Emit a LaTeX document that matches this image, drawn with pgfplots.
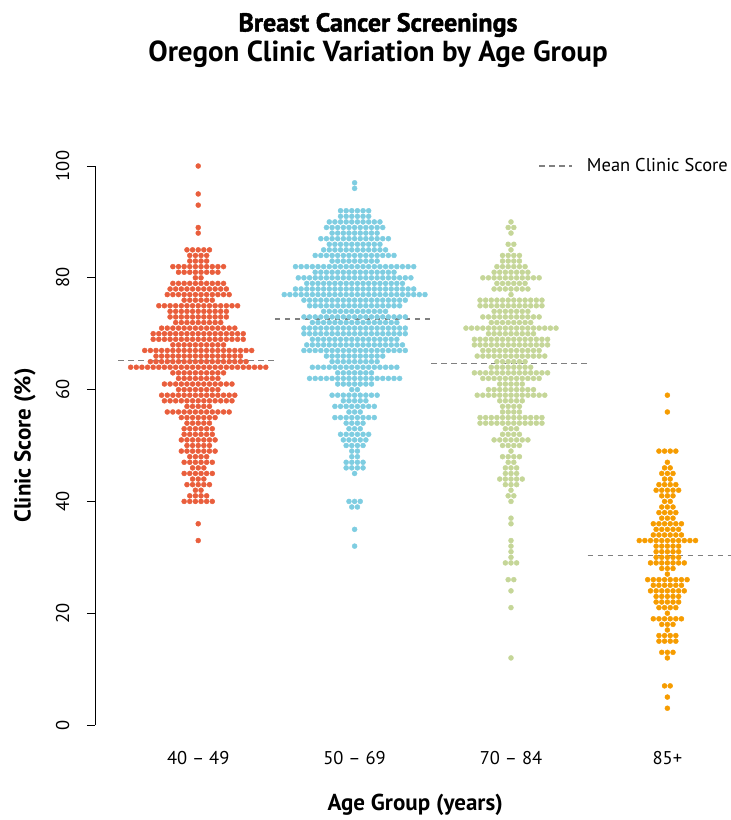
\documentclass[border=0pt]{standalone}
\usepackage{fontspec}
\setmainfont{PT Sans}
\newfontfamily\heavyfont{PT Sans}[BoldFeatures={FakeBold=1.6}]
\usepackage{pgfplots}
\usepackage{pgfplotstable}
\pgfplotsset{compat=1.18}
\definecolor{cA}{RGB}{233,94,60}
\definecolor{cB}{RGB}{126,205,225}
\definecolor{cC}{RGB}{197,214,152}
\definecolor{cD}{RGB}{246,156,0}
\definecolor{meanc}{RGB}{128,128,128}

% y = row value, k = horizontal slot (half-dot units)
\pgfplotstableread[row sep=\\]{
y k\\
100 0\\95 0\\93 0\\89 0\\88 0\\
85 -4\\85 -2\\85 0\\85 2\\85 4\\
84 -3\\84 -1\\84 1\\84 3\\
83 -3\\83 -1\\83 1\\83 3\\
82 -9\\82 -7\\82 -5\\82 -3\\82 -1\\82 1\\82 3\\82 5\\82 7\\82 9\\
81 -7\\81 -5\\81 -3\\81 -1\\81 1\\81 3\\81 5\\81 7\\
80 -1\\80 1\\
79 -9\\79 -7\\79 -5\\79 -3\\79 -1\\79 1\\79 3\\79 5\\79 7\\79 9\\
78 -10\\78 -8\\78 -6\\78 -4\\78 -2\\78 0\\78 2\\78 4\\78 6\\78 8\\78 10\\
77 -11\\77 -9\\77 -7\\77 -5\\77 -3\\77 -1\\77 1\\77 3\\77 5\\77 7\\77 9\\77 11\\
76 -5\\76 -3\\76 -1\\76 1\\76 3\\76 5\\
75 -14\\75 -12\\75 -10\\75 -8\\75 -6\\75 -4\\75 -2\\75 0\\75 2\\75 4\\75 6\\75 8\\75 10\\75 12\\75 14\\
74 -10\\74 -8\\74 -6\\74 -4\\74 -2\\74 0\\74 2\\74 4\\74 6\\74 8\\74 10\\
73 -10\\73 -8\\73 -6\\73 -4\\73 -2\\73 0\\73 2\\73 4\\73 6\\73 8\\73 10\\
72 -8\\72 -6\\72 -4\\72 -2\\72 0\\72 2\\72 4\\72 6\\72 8\\
71 -13\\71 -11\\71 -9\\71 -7\\71 -5\\71 -3\\71 -1\\71 1\\71 3\\71 5\\71 7\\71 9\\71 11\\71 13\\
70 -16\\70 -14\\70 -12\\70 -10\\70 -8\\70 -6\\70 -4\\70 -2\\70 0\\70 2\\70 4\\70 6\\70 8\\70 10\\70 12\\70 14\\70 16\\
69 -16\\69 -14\\69 -12\\69 -10\\69 -8\\69 -6\\69 -4\\69 -2\\69 0\\69 2\\69 4\\69 6\\69 8\\69 10\\69 12\\69 14\\69 16\\
68 -9\\68 -7\\68 -5\\68 -3\\68 -1\\68 1\\68 3\\68 5\\68 7\\68 9\\
67 -19\\67 -17\\67 -15\\67 -13\\67 -11\\67 -9\\67 -7\\67 -5\\67 -3\\67 -1\\67 1\\67 3\\67 5\\67 7\\67 9\\67 11\\67 13\\67 15\\67 17\\67 19\\
66 -15\\66 -13\\66 -11\\66 -9\\66 -7\\66 -5\\66 -3\\66 -1\\66 1\\66 3\\66 5\\66 7\\66 9\\66 11\\66 13\\66 15\\
65 -17\\65 -15\\65 -13\\65 -11\\65 -9\\65 -7\\65 -5\\65 -3\\65 -1\\65 1\\65 3\\65 5\\65 7\\65 9\\65 11\\65 13\\65 15\\65 17\\
64 -24\\64 -22\\64 -20\\64 -18\\64 -16\\64 -14\\64 -12\\64 -10\\64 -8\\64 -6\\64 -4\\64 -2\\64 0\\64 2\\64 4\\64 6\\64 8\\64 10\\64 12\\64 14\\64 16\\64 18\\64 20\\64 22\\64 24\\
63 -9\\63 -7\\63 -5\\63 -3\\63 -1\\63 1\\63 3\\63 5\\63 7\\63 9\\
62 -7\\62 -5\\62 -3\\62 -1\\62 1\\62 3\\62 5\\62 7\\
61 -12\\61 -10\\61 -8\\61 -6\\61 -4\\61 -2\\61 0\\61 2\\61 4\\61 6\\61 8\\61 10\\61 12\\
60 -7\\60 -5\\60 -3\\60 -1\\60 1\\60 3\\60 5\\60 7\\
59 -13\\59 -11\\59 -9\\59 -7\\59 -5\\59 -3\\59 -1\\59 1\\59 3\\59 5\\59 7\\59 9\\59 11\\59 13\\
58 -12\\58 -10\\58 -8\\58 -6\\58 -4\\58 -2\\58 0\\58 2\\58 4\\58 6\\58 8\\58 10\\58 12\\
57 -4\\57 -2\\57 0\\57 2\\57 4\\
56 -11\\56 -9\\56 -7\\56 -5\\56 -3\\56 -1\\56 1\\56 3\\56 5\\56 7\\56 9\\56 11\\
55 -6\\55 -4\\55 -2\\55 0\\55 2\\55 4\\55 6\\
54 -4\\54 -2\\54 0\\54 2\\54 4\\
53 -5\\53 -3\\53 -1\\53 1\\53 3\\53 5\\
52 -5\\52 -3\\52 -1\\52 1\\52 3\\52 5\\
51 -6\\51 -4\\51 -2\\51 0\\51 2\\51 4\\51 6\\
50 -4\\50 -2\\50 0\\50 2\\50 4\\
49 -6\\49 -4\\49 -2\\49 0\\49 2\\49 4\\49 6\\
48 -3\\48 -1\\48 1\\48 3\\
47 -5\\47 -3\\47 -1\\47 1\\47 3\\47 5\\
46 -2\\46 0\\46 2\\
45 -5\\45 -3\\45 -1\\45 1\\45 3\\45 5\\
44 -2\\44 0\\44 2\\
43 -4\\43 -2\\43 0\\43 2\\43 4\\
42 -1\\42 1\\
41 -3\\41 -1\\41 1\\41 3\\
40 -5\\40 -3\\40 -1\\40 1\\40 3\\40 5\\
36 0\\33 0\\
}\gA

\pgfplotstableread[row sep=\\]{
y k\\
97 0\\96 0\\
92 -5\\92 -3\\92 -1\\92 1\\92 3\\92 5\\
91 -5\\91 -3\\91 -1\\91 1\\91 3\\91 5\\
90 -9\\90 -7\\90 -5\\90 -3\\90 -1\\90 1\\90 3\\90 5\\90 7\\90 9\\
89 -10\\89 -8\\89 -6\\89 -4\\89 -2\\89 0\\89 2\\89 4\\89 6\\89 8\\89 10\\
88 -8\\88 -6\\88 -4\\88 -2\\88 0\\88 2\\88 4\\88 6\\88 8\\
87 -12\\87 -10\\87 -8\\87 -6\\87 -4\\87 -2\\87 0\\87 2\\87 4\\87 6\\87 8\\87 10\\87 12\\
86 -9\\86 -7\\86 -5\\86 -3\\86 -1\\86 1\\86 3\\86 5\\86 7\\86 9\\
85 -11\\85 -9\\85 -7\\85 -5\\85 -3\\85 -1\\85 1\\85 3\\85 5\\85 7\\85 9\\85 11\\
84 -14\\84 -12\\84 -10\\84 -8\\84 -6\\84 -4\\84 -2\\84 0\\84 2\\84 4\\84 6\\84 8\\84 10\\84 12\\84 14\\
83 -8\\83 -6\\83 -4\\83 -2\\83 0\\83 2\\83 4\\83 6\\83 8\\
82 -21\\82 -19\\82 -17\\82 -15\\82 -13\\82 -11\\82 -9\\82 -7\\82 -5\\82 -3\\82 -1\\82 1\\82 3\\82 5\\82 7\\82 9\\82 11\\82 13\\82 15\\82 17\\82 19\\82 21\\
81 -14\\81 -12\\81 -10\\81 -8\\81 -6\\81 -4\\81 -2\\81 0\\81 2\\81 4\\81 6\\81 8\\81 10\\81 12\\81 14\\
80 -20\\80 -18\\80 -16\\80 -14\\80 -12\\80 -10\\80 -8\\80 -6\\80 -4\\80 -2\\80 0\\80 2\\80 4\\80 6\\80 8\\80 10\\80 12\\80 14\\80 16\\80 18\\80 20\\
79 -17\\79 -15\\79 -13\\79 -11\\79 -9\\79 -7\\79 -5\\79 -3\\79 -1\\79 1\\79 3\\79 5\\79 7\\79 9\\79 11\\79 13\\79 15\\79 17\\
78 -21\\78 -19\\78 -17\\78 -15\\78 -13\\78 -11\\78 -9\\78 -7\\78 -5\\78 -3\\78 -1\\78 1\\78 3\\78 5\\78 7\\78 9\\78 11\\78 13\\78 15\\78 17\\78 19\\78 21\\
77 -25\\77 -23\\77 -21\\77 -19\\77 -17\\77 -15\\77 -13\\77 -11\\77 -9\\77 -7\\77 -5\\77 -3\\77 -1\\77 1\\77 3\\77 5\\77 7\\77 9\\77 11\\77 13\\77 15\\77 17\\77 19\\77 21\\77 23\\77 25\\
76 -18\\76 -16\\76 -14\\76 -12\\76 -10\\76 -8\\76 -6\\76 -4\\76 -2\\76 0\\76 2\\76 4\\76 6\\76 8\\76 10\\76 12\\76 14\\76 16\\76 18\\
75 -16\\75 -14\\75 -12\\75 -10\\75 -8\\75 -6\\75 -4\\75 -2\\75 0\\75 2\\75 4\\75 6\\75 8\\75 10\\75 12\\75 14\\75 16\\
74 -11\\74 -9\\74 -7\\74 -5\\74 -3\\74 -1\\74 1\\74 3\\74 5\\74 7\\74 9\\74 11\\
73 -18\\73 -16\\73 -14\\73 -12\\73 -10\\73 -8\\73 -6\\73 -4\\73 -2\\73 0\\73 2\\73 4\\73 6\\73 8\\73 10\\73 12\\73 14\\73 16\\73 18\\
72 -15\\72 -13\\72 -11\\72 -9\\72 -7\\72 -5\\72 -3\\72 -1\\72 1\\72 3\\72 5\\72 7\\72 9\\72 11\\72 13\\72 15\\
71 -18\\71 -16\\71 -14\\71 -12\\71 -10\\71 -8\\71 -6\\71 -4\\71 -2\\71 0\\71 2\\71 4\\71 6\\71 8\\71 10\\71 12\\71 14\\71 16\\71 18\\
70 -18\\70 -16\\70 -14\\70 -12\\70 -10\\70 -8\\70 -6\\70 -4\\70 -2\\70 0\\70 2\\70 4\\70 6\\70 8\\70 10\\70 12\\70 14\\70 16\\70 18\\
69 -15\\69 -13\\69 -11\\69 -9\\69 -7\\69 -5\\69 -3\\69 -1\\69 1\\69 3\\69 5\\69 7\\69 9\\69 11\\69 13\\69 15\\
68 -17\\68 -15\\68 -13\\68 -11\\68 -9\\68 -7\\68 -5\\68 -3\\68 -1\\68 1\\68 3\\68 5\\68 7\\68 9\\68 11\\68 13\\68 15\\68 17\\
67 -18\\67 -16\\67 -14\\67 -12\\67 -10\\67 -8\\67 -6\\67 -4\\67 -2\\67 0\\67 2\\67 4\\67 6\\67 8\\67 10\\67 12\\67 14\\67 16\\67 18\\
66 -10\\66 -8\\66 -6\\66 -4\\66 -2\\66 0\\66 2\\66 4\\66 6\\66 8\\66 10\\
65 -8\\65 -6\\65 -4\\65 -2\\65 0\\65 2\\65 4\\65 6\\65 8\\
64 -15\\64 -13\\64 -11\\64 -9\\64 -7\\64 -5\\64 -3\\64 -1\\64 1\\64 3\\64 5\\64 7\\64 9\\64 11\\64 13\\64 15\\
63 -6\\63 -4\\63 -2\\63 0\\63 2\\63 4\\63 6\\
62 -16\\62 -14\\62 -12\\62 -10\\62 -8\\62 -6\\62 -4\\62 -2\\62 0\\62 2\\62 4\\62 6\\62 8\\62 10\\62 12\\62 14\\62 16\\
61 -6\\61 -4\\61 -2\\61 0\\61 2\\61 4\\61 6\\
60 -1\\60 1\\
59 -8\\59 -6\\59 -4\\59 -2\\59 0\\59 2\\59 4\\59 6\\59 8\\
58 -4\\58 -2\\58 0\\58 2\\58 4\\
57 -7\\57 -5\\57 -3\\57 -1\\57 1\\57 3\\57 5\\57 7\\
56 -2\\56 0\\56 2\\
55 -7\\55 -5\\55 -3\\55 -1\\55 1\\55 3\\55 5\\55 7\\
54 -3\\54 -1\\54 1\\54 3\\
53 -2\\53 0\\53 2\\
52 -5\\52 -3\\52 -1\\52 1\\52 3\\52 5\\
51 -4\\51 -2\\51 0\\51 2\\51 4\\
50 -3\\50 -1\\50 1\\50 3\\
49 -1\\49 1\\
48 -1\\48 1\\
47 -3\\47 -1\\47 1\\47 3\\
46 -3\\46 -1\\46 1\\46 3\\
45 0\\
40 -2\\40 0\\40 2\\
39 -1\\39 1\\
35 0\\32 0\\
}\gB

\pgfplotstableread[row sep=\\]{
y k\\
90 0\\
89 -1\\89 1\\
88 0\\
86 -1\\86 1\\
85 0\\
84 -3\\84 -1\\84 1\\84 3\\
83 -3\\83 -1\\83 1\\83 3\\
82 -5\\82 -3\\82 -1\\82 1\\82 3\\82 5\\
81 -6\\81 -4\\81 -2\\81 0\\81 2\\81 4\\81 6\\
80 -10\\80 -8\\80 -6\\80 -4\\80 -2\\80 0\\80 2\\80 4\\80 6\\80 8\\80 10\\
79 -5\\79 -3\\79 -1\\79 1\\79 3\\79 5\\
78 -6\\78 -4\\78 -2\\78 0\\78 2\\78 4\\78 6\\
77 0\\
76 -11\\76 -9\\76 -7\\76 -5\\76 -3\\76 -1\\76 1\\76 3\\76 5\\76 7\\76 9\\76 11\\
75 -11\\75 -9\\75 -7\\75 -5\\75 -3\\75 -1\\75 1\\75 3\\75 5\\75 7\\75 9\\75 11\\
74 -6\\74 -4\\74 -2\\74 0\\74 2\\74 4\\74 6\\
73 -10\\73 -8\\73 -6\\73 -4\\73 -2\\73 0\\73 2\\73 4\\73 6\\73 8\\73 10\\
72 -7\\72 -5\\72 -3\\72 -1\\72 1\\72 3\\72 5\\72 7\\
71 -16\\71 -14\\71 -12\\71 -10\\71 -8\\71 -6\\71 -4\\71 -2\\71 0\\71 2\\71 4\\71 6\\71 8\\71 10\\71 12\\71 14\\71 16\\
70 -8\\70 -6\\70 -4\\70 -2\\70 0\\70 2\\70 4\\70 6\\70 8\\
69 -13\\69 -11\\69 -9\\69 -7\\69 -5\\69 -3\\69 -1\\69 1\\69 3\\69 5\\69 7\\69 9\\69 11\\69 13\\
68 -13\\68 -11\\68 -9\\68 -7\\68 -5\\68 -3\\68 -1\\68 1\\68 3\\68 5\\68 7\\68 9\\68 11\\68 13\\
67 -10\\67 -8\\67 -6\\67 -4\\67 -2\\67 0\\67 2\\67 4\\67 6\\67 8\\67 10\\
66 -12\\66 -10\\66 -8\\66 -6\\66 -4\\66 -2\\66 0\\66 2\\66 4\\66 6\\66 8\\66 10\\66 12\\
65 -5\\65 -3\\65 -1\\65 1\\65 3\\65 5\\
64 -7\\64 -5\\64 -3\\64 -1\\64 1\\64 3\\64 5\\64 7\\
63 -13\\63 -11\\63 -9\\63 -7\\63 -5\\63 -3\\63 -1\\63 1\\63 3\\63 5\\63 7\\63 9\\63 11\\63 13\\
62 -10\\62 -8\\62 -6\\62 -4\\62 -2\\62 0\\62 2\\62 4\\62 6\\62 8\\62 10\\
61 -4\\61 -2\\61 0\\61 2\\61 4\\
60 -8\\60 -6\\60 -4\\60 -2\\60 0\\60 2\\60 4\\60 6\\60 8\\
59 -12\\59 -10\\59 -8\\59 -6\\59 -4\\59 -2\\59 0\\59 2\\59 4\\59 6\\59 8\\59 10\\59 12\\
58 -4\\58 -2\\58 0\\58 2\\58 4\\
57 -3\\57 -1\\57 1\\57 3\\
56 -3\\56 -1\\56 1\\56 3\\
55 -11\\55 -9\\55 -7\\55 -5\\55 -3\\55 -1\\55 1\\55 3\\55 5\\55 7\\55 9\\55 11\\
54 -11\\54 -9\\54 -7\\54 -5\\54 -3\\54 -1\\54 1\\54 3\\54 5\\54 7\\54 9\\54 11\\
53 -2\\53 0\\53 2\\
52 -3\\52 -1\\52 1\\52 3\\
51 -6\\51 -4\\51 -2\\51 0\\51 2\\51 4\\51 6\\
50 -3\\50 -1\\50 1\\50 3\\
49 0\\
48 -3\\48 -1\\48 1\\48 3\\
47 -1\\47 1\\
46 -2\\46 0\\46 2\\
45 -2\\45 0\\45 2\\
44 -4\\44 -2\\44 0\\44 2\\44 4\\
43 -2\\43 0\\43 2\\
42 0\\
41 -1\\41 1\\
40 0\\37 0\\36 0\\33 0\\32 0\\31 0\\30 0\\
29 -2\\29 0\\29 2\\
26 -1\\26 1\\
24 0\\21 0\\12 0\\
}\gC

\pgfplotstableread[row sep=\\]{
y k\\
59 0\\56 0\\
49 -3\\49 -1\\49 1\\49 3\\
47 0\\
46 -1\\46 1\\
45 -2\\45 0\\45 2\\
44 -1\\44 1\\
43 -3\\43 -1\\43 1\\43 3\\
42 -4\\42 -2\\42 0\\42 2\\42 4\\
41 -2\\41 0\\41 2\\
40 -1\\40 1\\
39 -2\\39 0\\39 2\\
38 -3\\38 -1\\38 1\\38 3\\
37 -2\\37 0\\37 2\\
36 -5\\36 -3\\36 -1\\36 1\\36 3\\36 5\\
35 -4\\35 -2\\35 0\\35 2\\35 4\\
34 -5\\34 -3\\34 -1\\34 1\\34 3\\34 5\\
33 -10\\33 -8\\33 -6\\33 -4\\33 -2\\33 0\\33 2\\33 4\\33 6\\33 8\\33 10\\
32 -4\\32 -2\\32 0\\32 2\\32 4\\
31 -4\\31 -2\\31 0\\31 2\\31 4\\
30 -4\\30 -2\\30 0\\30 2\\30 4\\
29 -6\\29 -4\\29 -2\\29 0\\29 2\\29 4\\29 6\\
28 -2\\28 0\\28 2\\
27 0\\
26 -7\\26 -5\\26 -3\\26 -1\\26 1\\26 3\\26 5\\26 7\\
25 -5\\25 -3\\25 -1\\25 1\\25 3\\25 5\\
24 -6\\24 -4\\24 -2\\24 0\\24 2\\24 4\\24 6\\
23 -4\\23 -2\\23 0\\23 2\\23 4\\
22 -4\\22 -2\\22 0\\22 2\\22 4\\
21 -3\\21 -1\\21 1\\21 3\\
20 0\\
19 -5\\19 -3\\19 -1\\19 1\\19 3\\19 5\\
18 -2\\18 0\\18 2\\
17 0\\
16 -3\\16 -1\\16 1\\16 3\\
15 -3\\15 -1\\15 1\\15 3\\
13 -2\\13 0\\13 2\\
12 0\\
7 -1\\7 1\\
5 0\\3 0\\
}\gD

\begin{document}
\begin{tikzpicture}
\begin{axis}[
  at={(95pt,-725pt)}, anchor=south west,
  scale only axis, width=675.6pt, height=559pt,
  xmin=0.34, xmax=4.66, ymin=0, ymax=100,
  clip=false,
  axis x line*=bottom, axis y line*=left,
  x axis line style={draw=none},
  y axis line style={black, line width=0.9pt},
  xtick={1,2,3,4},
  xticklabels={40 \textendash{} 49, 50 \textendash{} 69, 70 \textendash{} 84, 85+},
  xtick style={draw=none},
  ytick={0,20,40,60,80,100},
  ytick style={black, line width=0.9pt},
  tick align=outside, major tick length=8pt,
  /pgf/number format/assume math mode=true,
  yticklabel style={rotate=90, anchor=south, font=\fontsize{18.5}{21}\selectfont},
  xticklabel style={font=\fontsize{18.5}{21}\selectfont},
  xticklabel shift=15pt,
  yticklabel shift=14pt,
  xlabel={Age Group (years)},
  xlabel style={font=\fontsize{23}{27}\selectfont\bfseries, at={(axis description cs:0.474,-0.1431)}, anchor=center},
  ylabel={Clinic Score (\%)},
  ylabel style={font=\fontsize{23}{27}\selectfont\bfseries, at={(axis description cs:-0.1036,0.5)}, anchor=center},
  legend style={at={(axis description cs:0.94,1)}, anchor=east, draw=none, fill=none,
    font=\fontsize{18.5}{21}\selectfont, inner sep=0pt},
  legend cell align=left,
  legend image code/.code={\draw[#1] (0pt,0pt) -- (33pt,0pt); \path (45pt,0pt);},
]
\addplot[only marks, mark=*, mark size=2.5pt, color=cA, mark options={fill=cA, draw=cA}, forget plot]
  table[x expr=1+0.018*\thisrow{k}, y=y] {\gA};
\addplot[only marks, mark=*, mark size=2.5pt, color=cB, mark options={fill=cB, draw=cB}, forget plot]
  table[x expr=2+0.018*\thisrow{k}, y=y] {\gB};
\addplot[only marks, mark=*, mark size=2.5pt, color=cC, mark options={fill=cC, draw=cC}, forget plot]
  table[x expr=3+0.018*\thisrow{k}, y=y] {\gC};
\addplot[only marks, mark=*, mark size=2.5pt, color=cD, mark options={fill=cD, draw=cD}, forget plot]
  table[x expr=4+0.018*\thisrow{k}, y=y] {\gD};
\addplot[meanc, line width=1.4pt, dash pattern=on 5.5pt off 4.5pt] coordinates {(0.49,65.2) (1.51,65.2)};
\addlegendentry{Mean Clinic Score}
\addplot[meanc, line width=1.4pt, dash pattern=on 5.5pt off 4.5pt, forget plot] coordinates {(1.49,72.6) (2.51,72.6)};
\addplot[meanc, line width=1.4pt, dash pattern=on 5.5pt off 4.5pt, forget plot] coordinates {(2.49,64.7) (3.51,64.7)};
\addplot[meanc, line width=1.4pt, dash pattern=on 5.5pt off 4.5pt, forget plot] coordinates {(3.49,30.3) (4.51,30.3)};
\end{axis}
\node[font=\fontsize{26}{30}\selectfont\heavyfont\bfseries] at (378pt,-25pt) {Breast Cancer Screenings};
\node[font=\fontsize{29}{33}\selectfont\bfseries] at (378pt,-54pt) {Oregon Clinic Variation by Age Group};
\pgfresetboundingbox
\path[use as bounding box] (0pt,0pt) rectangle (731pt,-820pt);
\end{tikzpicture}
\end{document}
